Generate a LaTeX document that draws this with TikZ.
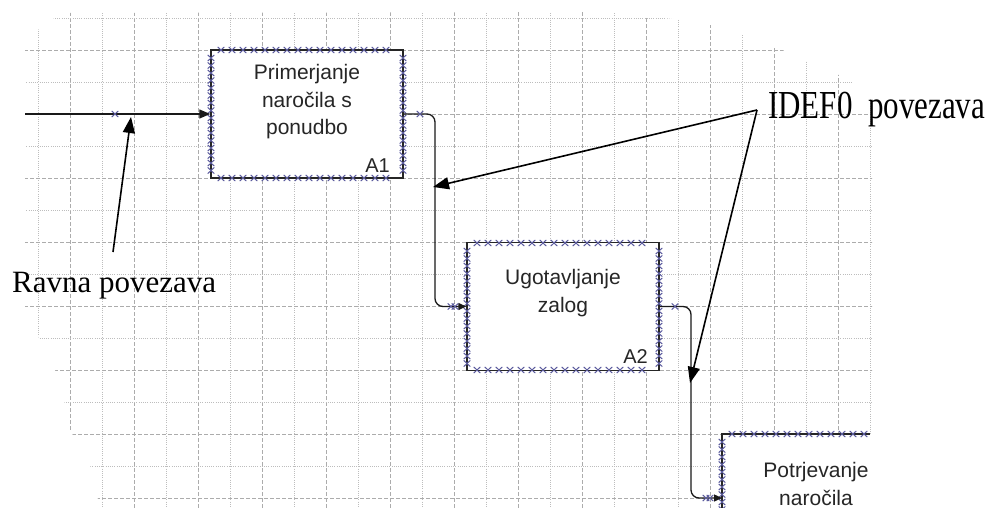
\documentclass[tikz,border=0pt]{standalone}
\usepackage{fontspec}
\setmainfont{Liberation Serif}
\newfontfamily\boxfont{Liberation Sans}
\usetikzlibrary{arrows.meta,calc}
\definecolor{gridline}{RGB}{172,172,172}
\definecolor{handle}{RGB}{92,92,158}
\definecolor{edge}{RGB}{38,38,38}
\tikzset{
  hx/.pic={\draw[handle, line width=0.95pt] (-3.3,-3.1) -- (3.3,3.1) (-3.3,3.1) -- (3.3,-3.1);},
  majorgrid/.style={gridline, line width=0.9pt, dash pattern=on 4pt off 2pt},
  minorgrid/.style={gridline!80, line width=0.9pt, dash pattern=on 1pt off 1.2pt},
  actbox/.style={draw=edge, fill=white, line width=1.4pt, inner sep=0pt,
    minimum width=192pt, minimum height=128pt},
  boxtext/.style={font=\boxfont\fontsize{21}{27.5}\selectfont, align=center,
    inner sep=0pt, text=black!85},
  boxnum/.style={font=\boxfont\fontsize{20}{24}\selectfont, inner sep=0pt, text=black!85},
  flow/.style={draw=black!90, line width=1.3pt, rounded corners=8pt},
  flowtip/.style={-{Triangle[length=11pt,width=9pt]}},
  smalltip/.style={-{Triangle[length=8pt,width=7pt]}},
  note/.style={font=\fontsize{31}{36}\selectfont, inner sep=0pt},
  pointer/.style={draw=black, line width=1.6pt, -{Triangle[length=16pt,width=12pt]}},
}
\begin{document}
\begin{tikzpicture}[x=1pt,y=-1pt]
\useasboundingbox (0,0) rectangle (995,508);

% drawing grid, faded out along its ragged edge
\begin{scope}
  \clip (25,45) -- (40,28) -- (62,13) -- (610,12) -- (700,22) -- (760,40)
        -- (850,80) -- (872,100) -- (872,508) -- (100,508) -- (90,465)
        -- (70,430) -- (60,380) -- (40,340) -- (25,310) -- cycle;
  \foreach \x in {70.5,134.5,...,840} \draw[majorgrid] (\x,0) -- (\x,508);
  \foreach \x in {38.5,102.5,...,880} \draw[minorgrid] (\x,0) -- (\x,508);
  \foreach \y in {50,114,...,500} \draw[majorgrid] (0,\y) -- (995,\y);
  \foreach \y in {18,82,...,470} \draw[minorgrid] (0,\y) -- (995,\y);
\end{scope}

% activity boxes
\node[actbox] (a1) at (307,114) {};
\node[actbox] (a2) at (563,306.5) {};
\node[fill=white, inner sep=0pt, minimum width=280pt, minimum height=80pt,
      anchor=north west] (a3) at (722,434) {};
\draw[edge, line width=1.4pt] ($(a3.north west)+(148,0)$) -- (a3.north west) -- (a3.south west);

\node[boxtext, anchor=north] (a1t) at (307,64.5) {Primerjanje\\naročila s\\ponudbo};
\node[boxnum, anchor=base east] (a1n) at (390,172) {A1};
\node[boxtext, anchor=north] (a2t) at (563,269.5) {Ugotavljanje\\zalog};
\node[boxnum, anchor=base east] (a2n) at (648,363) {A2};
\node[boxtext, anchor=north] (a3t) at (816,462.5) {Potrjevanje\\naročila};

% selection handles along the box edges
\foreach \x in {221,232,...,396} {\pic at (\x,50) {hx}; \pic at (\x,178) {hx};}
\foreach \y in {58,65.5,...,174} {\pic at (211,\y) {hx}; \pic at (403,\y) {hx};}
\foreach \x in {477,488,...,652} {\pic at (\x,243) {hx}; \pic at (\x,370) {hx};}
\foreach \y in {251,258.5,...,365} {\pic at (467,\y) {hx}; \pic at (659,\y) {hx};}
\foreach \x in {732,743,...,868} {\pic at (\x,434) {hx};}
\foreach \y in {442,449.5,...,512} {\pic at (722,\y) {hx};}

% connectors
\coordinate (src) at (25,114);
\coordinate (a3in) at (722,498);
\draw[flow, flowtip] (src) -- (a1.west);
\draw[flow, smalltip] (a1.east) -- (435,114) -- (435,306.5) -- (a2.west);
\draw[flow, smalltip] (a2.east) -- (691,306.5) -- (691,498) -- (a3in);
\pic at (115,114) {hx};
\pic at (420,114) {hx};
\pic at (451,306.5) {hx};
\pic at (455,306.5) {hx};
\pic at (675,306.5) {hx};
\pic at (706,498) {hx};
\pic at (710,498) {hx};

% annotations
\node[note, anchor=base west] (ravna) at (12,292) {Ravna povezava};
\node[note, anchor=base west] (idef) at (768,118) {\scalebox{1}[1.28]{IDEF0\ \ povezava}};
\coordinate (rvfoot) at (113,252);
\coordinate (hub) at (757,110);
\coordinate (tipA) at (131,117);
\coordinate (tipB) at (433,187);
\coordinate (tipC) at (690,383);
\draw[pointer] (rvfoot) -- (tipA);
\draw[pointer] (hub) -- (tipB);
\draw[pointer] (hub) -- (tipC);
\end{tikzpicture}
\end{document}
